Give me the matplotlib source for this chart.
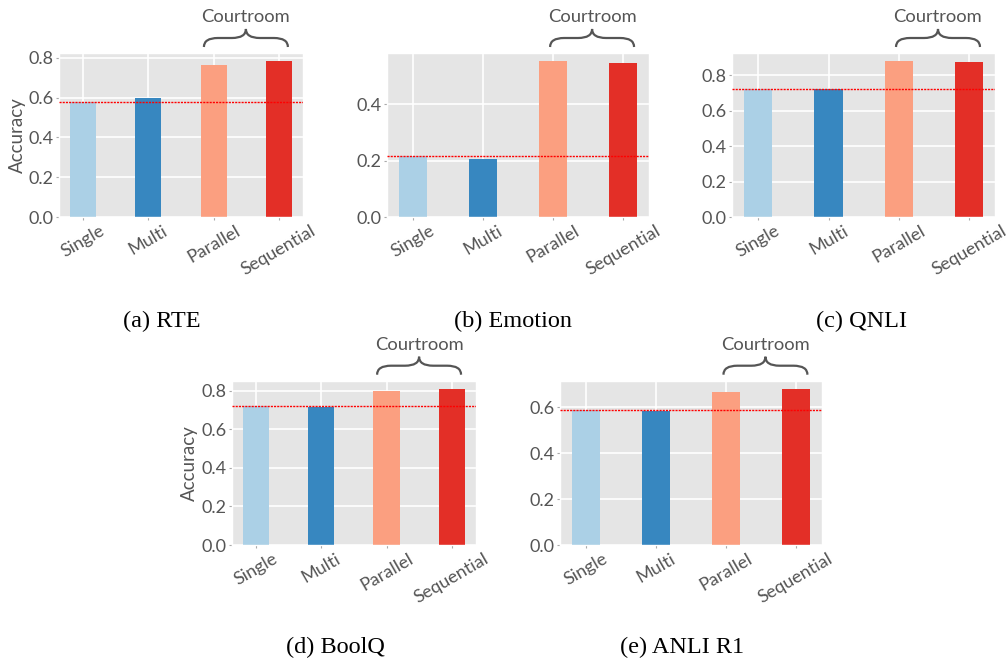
import numpy as np
import matplotlib
matplotlib.use('Agg')
import matplotlib.pyplot as plt
from matplotlib.path import Path
from matplotlib.patches import PathPatch

plt.style.use('ggplot')
plt.rcParams['font.family'] = ['Lato', 'DejaVu Sans']

# data
methods = ['Single', 'Multi', 'Parallel', 'Sequential']
captions = ['(a) RTE', '(b) Emotion', '(c) QNLI', '(d) BoolQ', '(e) ANLI R1']
rte = [0.58, 0.60, 0.765, 0.785]
emotion = [0.216, 0.204, 0.553, 0.546]
qnli = [0.72, 0.72, 0.88, 0.875]
boolq = [0.72, 0.717, 0.80, 0.812]
anli = [0.588, 0.585, 0.665, 0.682]
baselines = [0.58, 0.216, 0.72, 0.72, 0.588]
yticks = [[0, 0.2, 0.4, 0.6, 0.8], [0, 0.2, 0.4], [0, 0.2, 0.4, 0.6, 0.8],
          [0, 0.2, 0.4, 0.6, 0.8], [0, 0.2, 0.4, 0.6]]
colors = ['#abd0e6', '#3787c0', '#fb9f80', '#e32f27']

W, H = 1006, 661
fig = plt.figure(figsize=(W / 100, H / 100), dpi=100)

# axes boxes in pixels: left, right, top, bottom
boxes = [(59, 303, 53, 217), (386.7, 649, 53, 217), (732.3, 995, 53, 217),
         (231.7, 476, 380.7, 545), (560, 821.7, 380.7, 545)]
brace_cx = [0.766, 0.783, 0.783, 0.767, 0.785]
cap_pos = [(162, 321), (513, 321), (862, 321), (335, 647), (682, 647)]

all_vals = [rte, emotion, qnli, boolq, anli]

def draw_brace(ax, cx, half_px):
    # x in axes fraction, y in axes fraction above the top
    bbox = ax.get_position()
    hw = half_px / (bbox.width * W)
    ph = bbox.height * H
    yb = 1 + 6 / ph
    ym = 1 + 15 / ph
    yt = 1 + 24 / ph
    r = 14 / (bbox.width * W)
    x0, x1 = cx - hw, cx + hw
    verts = [(x0, yb), (x0, ym), (x0 + r, ym), (cx - r, ym),
             (cx, ym), (cx, yt), (cx, ym), (cx + r, ym),
             (x1 - r, ym), (x1, ym), (x1, yb)]
    codes = [Path.MOVETO, Path.CURVE3, Path.CURVE3, Path.LINETO,
             Path.CURVE3, Path.CURVE3, Path.CURVE3, Path.CURVE3,
             Path.LINETO, Path.CURVE3, Path.CURVE3]
    patch = PathPatch(Path(verts, codes), transform=ax.transAxes, fill=False,
                      edgecolor='#555555', lw=1.6, clip_on=False)
    ax.add_patch(patch)
    ax.text(cx, 1 + 36 / ph, 'Courtroom', transform=ax.transAxes, ha='center',
            va='center', fontsize=13.2, color='#555555')

for i, vals in enumerate(all_vals):
    l, r, t, b = boxes[i]
    ax = fig.add_axes([l / W, 1 - b / H, (r - l) / W, (b - t) / H])
    x = np.arange(len(methods))
    ax.bar(x, vals, width=0.4, color=colors, zorder=2)
    ax.axhline(baselines[i], color='red', lw=1, ls=(0, (1.5, 0.8)), zorder=3)
    ax.set_xticks(x)
    ax.set_xticklabels(methods, rotation=30, ha='center', fontsize=13, color='#555555')
    ax.set_yticks(yticks[i])
    ax.set_yticklabels(['%.1f' % v for v in yticks[i]], fontsize=13, color='#555555')
    ax.set_ylim(0, max(vals) * 1.05)
    ax.set_xlim(-0.37, 3.37)
    ax.tick_params(axis='both', length=2, color='#aaaaaa', pad=2)
    ax.grid(True, color='white', lw=1.2)
    ax.set_axisbelow(True)
    if i in (0, 3):
        ax.set_ylabel('Accuracy', fontsize=13.5, color='#555555', labelpad=2)
    draw_brace(ax, brace_cx[i], 42)
    cx, cy = cap_pos[i]
    fig.text(cx / W, 1 - cy / H, captions[i], ha='center', va='center',
             fontsize=17.5, family='Liberation Serif', color='black')

fig.savefig('out.png', dpi=100)
